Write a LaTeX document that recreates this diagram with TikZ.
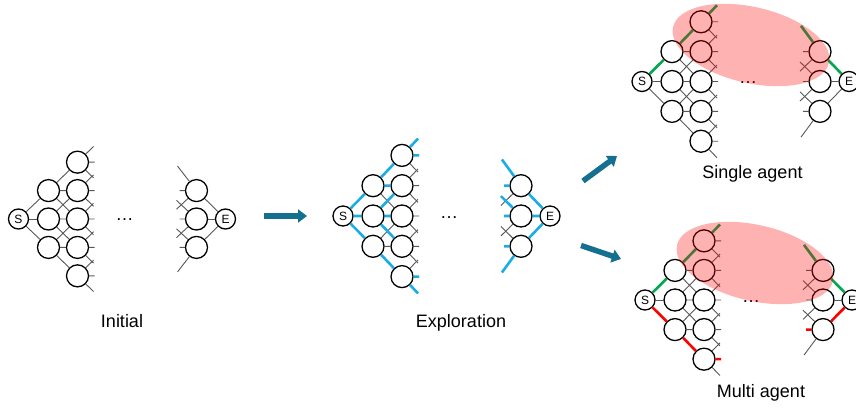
\documentclass[tikz,border=0pt]{standalone}
\usepackage{fontspec}
\setmainfont{Liberation Sans}
\usetikzlibrary{arrows.meta}

\definecolor{edgegray}{HTML}{585858}
\definecolor{xblue}{HTML}{1AADE4}
\definecolor{xgreen}{HTML}{00A94F}
\definecolor{xred}{HTML}{FF0000}
\definecolor{flow}{HTML}{14708E}

\tikzset{
  cell/.style={circle,draw=black,line width=1.3pt,fill=white,minimum size=22pt,inner sep=0pt},
  term/.style={cell,minimum size=20pt,font=\fontsize{12}{12}\selectfont},
  link/.style={draw=edgegray,line width=0.9pt},
  hot/.style={line width=2.6pt},
  caption/.style={font=\fontsize{18}{20}\selectfont,anchor=base},
  dots/.style={font=\fontsize{18}{18}\selectfont,anchor=base,inner sep=0pt},
  flowarrow/.style={draw=flow,line width=5.5pt,-{Triangle[length=9pt,width=13pt]}},
  zone/.style={fill=red,fill opacity=0.3}
}

% #1 prefix, #2/#3 position of S, #4 vertical spacing factor
\newcommand\network[4]{%
\begin{scope}[shift={(#2,#3)},yscale=#4]
  \node[term] (#1S) at (0,0) {S};
  \node[term] (#1E) at (207,0) {E};
  \foreach \n/\y in {a/-29,b/0,c/29}{
    \node[cell] (#1c1\n) at (30,\y) {};
    \node[cell] (#1e\n) at (178,\y) {};
    \coordinate (#1e\n-l) at (161,\y);
  }
  \foreach \n/\y in {a/-58,b/-29,c/0,d/29,e/58}{
    \node[cell] (#1c2\n) at (59,\y) {};
    \coordinate (#1c2\n-u) at (75,\y-16);
    \coordinate (#1c2\n-r) at (76,\y);
    \coordinate (#1c2\n-d) at (75,\y+16);
  }
  \coordinate (#1ea-u) at (159,-54);
  \coordinate (#1ea-d) at (158,-10);
  \coordinate (#1eb-u) at (158,-19);
  \coordinate (#1eb-d) at (158,19);
  \coordinate (#1ec-u) at (158,10);
  \coordinate (#1ec-d) at (159,54);
  \node[dots] (#1dots) at (106,2) {…};
\end{scope}
\foreach \n in {a,b,c}{
  \draw[link] (#1S) -- (#1c1\n);
  \draw[link] (#1e\n) -- (#1E);
  \draw[link] (#1e\n) -- (#1e\n-u) (#1e\n) -- (#1e\n-l) (#1e\n) -- (#1e\n-d);
}
\draw[link] (#1c1a) -- (#1c2a) (#1c1a) -- (#1c2b) (#1c1a) -- (#1c2c)
            (#1c1b) -- (#1c2b) (#1c1b) -- (#1c2c) (#1c1b) -- (#1c2d)
            (#1c1c) -- (#1c2c) (#1c1c) -- (#1c2d) (#1c1c) -- (#1c2e);
\foreach \n in {a,b,c,d,e}{
  \draw[link] (#1c2\n) -- (#1c2\n-u) (#1c2\n) -- (#1c2\n-r) (#1c2\n) -- (#1c2\n-d);
}
}

\begin{document}
\begin{tikzpicture}[x=1pt,y=-1pt]
\useasboundingbox (0,0) rectangle (856,407);
\fill[white] (0,0) rectangle (856,407);

% the four stages of the search graph
\network{i}{18.5}{219}{0.98}
\network{x}{343}{216}{1.045}
\network{s}{642}{81.5}{1.03}
\network{m}{645}{300}{1.02}

% explored edges
\begin{scope}[every path/.style={link,hot,draw=xblue}]
  \draw (xS) -- (xc1a) (xS) -- (xc1b) (xS) -- (xc1c);
  \draw (xc1a) -- (xc2a) (xc1a) -- (xc2b);
  \draw (xc1b) -- (xc2b) (xc1b) -- (xc2c) (xc1b) -- (xc2d);
  \draw (xc1c) -- (xc2e);
  \draw (xc2a) -- (xc2a-u) (xc2a) -- (xc2a-r);
  \draw (xc2e) -- (xc2e-r) (xc2e) -- (xc2e-d);
  \draw (xea) -- (xE) (xeb) -- (xE) (xec) -- (xE);
  \draw (xea) -- (xea-u) (xea) -- (xea-l);
  \draw (xeb) -- (xeb-u) (xeb) -- (xeb-l);
  \draw (xec) -- (xec-l) (xec) -- (xec-d);
\end{scope}

% chosen paths
\begin{scope}[every path/.style={link,hot,draw=xgreen}]
  \foreach \p in {s,m}{
    \draw (\p S) -- (\p c1a) (\p c1a) -- (\p c2a) (\p c2a) -- (\p c2a-u);
    \draw (\p ea) -- (\p E) (\p ea) -- (\p ea-u);
  }
\end{scope}
\begin{scope}[every path/.style={link,hot,draw=xred}]
  \draw (mS) -- (mc1c) (mc1c) -- (mc2e) (mc2e) -- (mc2e-r);
  \draw (mec) -- (mE) (mec) -- (mec-l);
\end{scope}

% shared region
\fill[zone,rotate around={-13:(751,45)}] (751,45) ellipse [x radius=80,y radius=38];
\fill[zone,rotate around={-13:(755,263)}] (755,263) ellipse [x radius=80,y radius=38];

% stage arrows
\coordinate (a1s) at (264,216);
\coordinate (a1e) at (307,216);
\coordinate (a2s) at (583,181);
\coordinate (a2e) at (617,156);
\coordinate (a3s) at (581,245.5);
\coordinate (a3e) at (621,259);
\draw[flowarrow] (a1s) -- (a1e);
\draw[flowarrow] (a2s) -- (a2e);
\draw[flowarrow] (a3s) -- (a3e);

% captions
\node[caption] (lbinit) at (122,327) {Initial};
\node[caption] (lbexpl) at (461,327) {Exploration};
\node[caption] (lbsingle) at (752.5,178) {Single agent};
\node[caption] (lbmulti) at (761,397) {Multi agent};
\end{tikzpicture}
\end{document}
